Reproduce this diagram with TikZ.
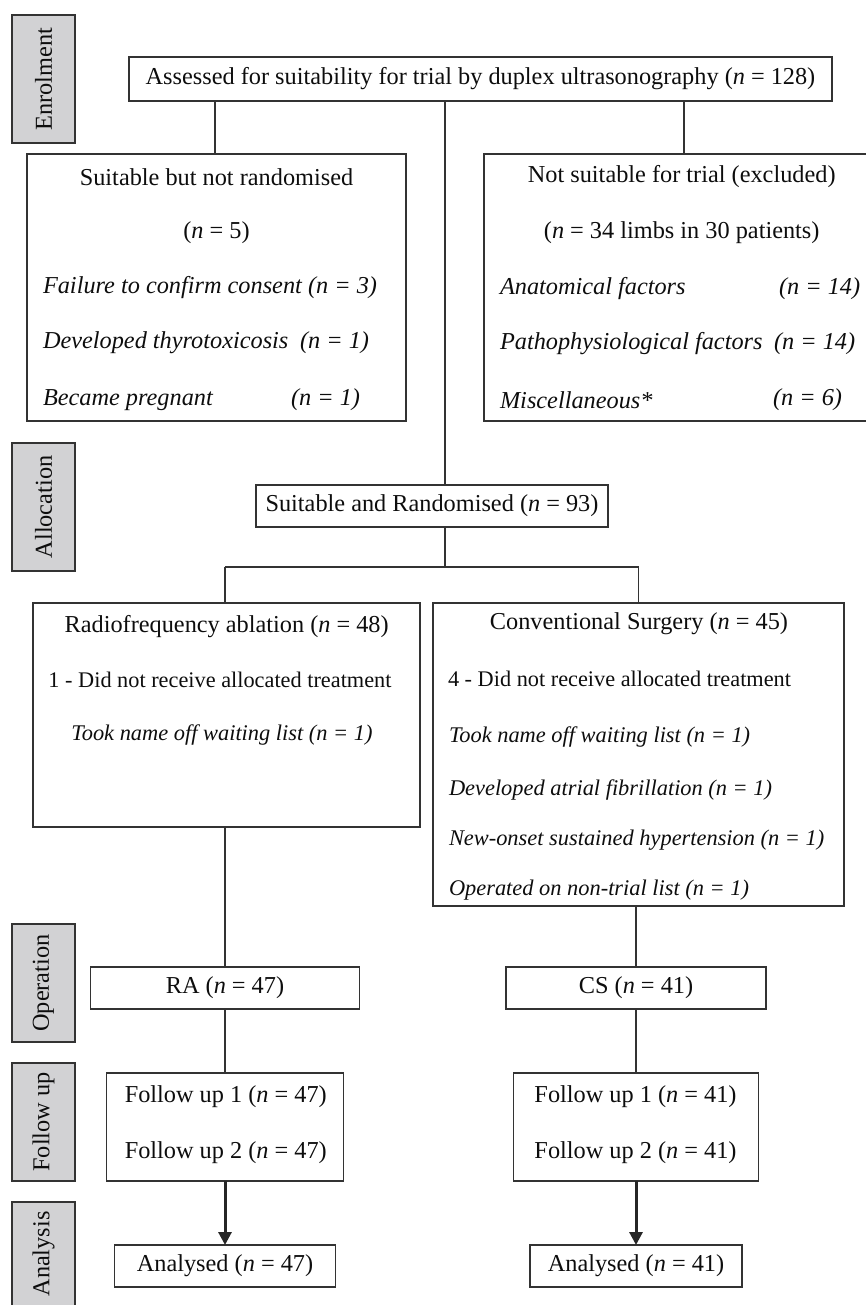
\documentclass[tikz,border=0pt]{standalone}
\usepackage{fontspec}
\setmainfont{Liberation Serif}
\usetikzlibrary{arrows.meta}
\definecolor{edgec}{HTML}{333333}
\definecolor{labc}{HTML}{D2D2D4}
\begin{document}
\begin{tikzpicture}[x=1pt,y=-1pt,
  every node/.style={font=\fontsize{24.3}{28}\selectfont, inner sep=0pt, outer sep=0pt, text=black!95},
  box/.style={draw=edgec, line width=1.5pt, rectangle},
  labbox/.style={box, fill=labc, minimum width=63pt},
  conn/.style={draw=edgec, line width=1.5pt},
  arr/.style={draw=black!85, line width=3pt, -{Triangle[length=13pt,width=13pt]}},
  itx/.style={font=\fontsize{24.3}{28}\selectfont\itshape},
  sm/.style={font=\fontsize{22.3}{26}\selectfont},
  smit/.style={font=\fontsize{22.4}{26}\selectfont\itshape},
  lft/.style={anchor=west}
]
\useasboundingbox (0,0) rectangle (866,1305);

% stage labels
\node[labbox, minimum height=128pt] (lenr) at (43.5,79) {};
\node[rotate=90] (tenr) at (lenr.center) {Enrolment};
\node[labbox, minimum height=128pt] (lall) at (43.5,507) {};
\node[rotate=90] (tall) at (lall.center) {Allocation};
\node[labbox, minimum height=118pt] (lop) at (43.5,983) {};
\node[rotate=90] (top2) at (lop.center) {Operation};
\node[labbox, minimum height=118pt] (lfu) at (43.5,1122) {};
\node[rotate=90] (tfu) at (lfu.center) {Follow up};
\node[labbox, minimum height=112pt] (lan) at (43.5,1258) {};
\node[rotate=90] (tan) at (43.5,1254) {Analysis};

% boxes
\node[box, minimum width=703pt, minimum height=44pt] (top) at (480.5,79)
  {Assessed for suitability for trial by duplex ultrasonography (\textit{n} = 128)};
\node[box, minimum width=379pt, minimum height=267pt] (left) at (216.5,287.5) {};
\node[box, minimum width=388pt, minimum height=267pt] (right) at (678,287.5) {};
\node[box, minimum width=352pt, minimum height=42pt] (alloc) at (432,506)
  {Suitable and Randomised (\textit{n} = 93)};
\node[box, minimum width=387pt, minimum height=224pt] (ra) at (226.5,715) {};
\node[box, minimum width=411pt, minimum height=303pt] (cs) at (638.5,754.5) {};
\node[box, minimum width=269pt, minimum height=42pt] (raop) at (225,988) {RA (\textit{n} = 47)};
\node[box, minimum width=260pt, minimum height=42pt] (csop) at (636,988) {CS (\textit{n} = 41)};
\node[box, minimum width=237pt, minimum height=108pt] (rafu) at (225,1127) {};
\node[box, minimum width=245pt, minimum height=108pt] (csfu) at (636,1127) {};
\node[box, minimum width=221pt, minimum height=42pt] (raan) at (225,1266) {Analysed (\textit{n} = 47)};
\node[box, minimum width=212pt, minimum height=42pt] (csan) at (636,1266) {Analysed (\textit{n} = 41)};

% left box texts
\node (l1) at (216.5,177) {Suitable but not randomised};
\node (l2) at (216.5,233) {(\textit{n} = 5)};
\node[itx, lft] (l3) at (43,288) {Failure to confirm consent (n = 3)};
\node[itx, lft] (l4) at (43,343) {Developed thyrotoxicosis};
\node[itx, lft] (l4n) at (300,343) {(n = 1)};
\node[itx, lft] (l5) at (43,400) {Became pregnant};
\node[itx, lft] (l5n) at (291,400) {(n = 1)};

% right box texts
\node (r1) at (681.7,177) {Not suitable for trial (excluded)};
\node (r2) at (681.7,233) {(\textit{n} = 34 limbs in 30 patients)};
\node[itx, lft] (r3) at (500,289) {Anatomical factors};
\node[itx, lft] (r3n) at (779,289) {(n = 14)};
\node[itx, lft] (r4) at (500,344) {Pathophysiological factors};
\node[itx, lft] (r4n) at (774,344) {(n = 14)};
\node[itx, lft] (r5) at (500,400) {Miscellaneous*};
\node[itx, lft] (r5n) at (773,400) {(n = 6)};

% RA box texts
\node (a1) at (226.7,627) {Radiofrequency ablation (\textit{n} = 48)};
\node[sm] (a2) at (220,680) {1 - Did not receive allocated treatment};
\node[smit] (a3) at (222,735) {Took name off waiting list (n = 1)};

% CS box texts
\node (c1) at (639,624) {Conventional Surgery (\textit{n} = 45)};
\node[sm, lft] (c2) at (448,679) {4 - Did not receive allocated treatment};
\node[smit, lft] (c3) at (449,737) {Took name off waiting list (n = 1)};
\node[smit, lft] (c4) at (449,790) {Developed atrial fibrillation (n = 1)};
\node[smit, lft] (c5) at (449,840) {New-onset sustained hypertension (n = 1)};
\node[smit, lft] (c6) at (449,890) {Operated on non-trial list (n = 1)};

% follow up texts
\node (f1) at (225.8,1097) {Follow up 1 (\textit{n} = 47)};
\node (f2) at (225.8,1153) {Follow up 2 (\textit{n} = 47)};
\node (g1) at (635.5,1097) {Follow up 1 (\textit{n} = 41)};
\node (g2) at (635.5,1153) {Follow up 2 (\textit{n} = 41)};

% connectors
\coordinate (xl) at (215,0);
\coordinate (xm) at (445,0);
\coordinate (xr) at (684,0);
\coordinate (sp) at (445,567);
\draw[conn] (top.south -| xl) -- (left.north -| xl);
\draw[conn] (top.south -| xr) -- (right.north -| xr);
\draw[conn] (top.south -| xm) -- (alloc.north -| xm);
\draw[conn] (alloc.south -| xm) -- (sp);
\draw[conn] (raop.north |- sp) -- (sp) -| (cs.north);
\draw[conn] (raop.north |- sp) -- (raop.north |- ra.north);
\draw[conn] (raop.north |- ra.south) -- (raop.north);
\draw[conn] (csop.north |- cs.south) -- (csop.north);
\draw[conn] (rafu.north |- raop.south) -- (rafu.north);
\draw[conn] (csfu.north |- csop.south) -- (csfu.north);
\draw[arr] (raan.north |- rafu.south) -- (raan.north);
\draw[arr] (csan.north |- csfu.south) -- (csan.north);
\end{tikzpicture}
\end{document}
